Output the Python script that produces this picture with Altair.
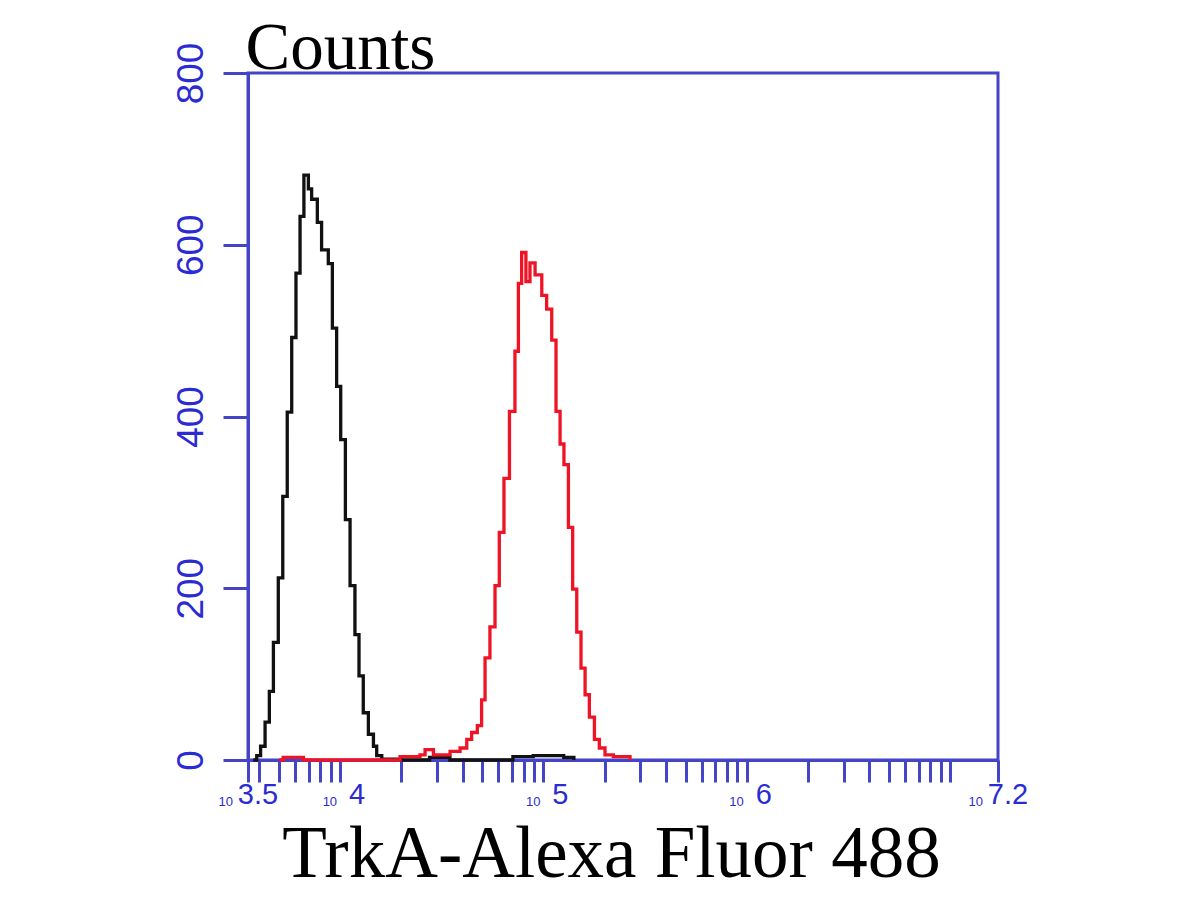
import altair as alt
import pandas as pd

# ---- data (log10 of intensity, counts) ----
black_exp = [3.573, 3.590, 3.609, 3.631, 3.652, 3.672, 3.696, 3.718, 3.740, 3.762,
             3.783, 3.803, 3.822, 3.844, 3.860, 3.888, 3.909, 3.942, 3.962, 3.983,
             4.003, 4.026, 4.049, 4.073, 4.093, 4.114, 4.139, 4.164, 4.180, 4.205,
             4.30, 4.44, 4.54, 4.85, 4.95, 5.10, 5.15]
black_cnt = [0, 5, 16, 44, 80, 137, 212, 307, 405, 492,
             567, 633, 681, 665, 653, 626, 594, 578, 503, 435,
             373, 280, 203, 146, 98, 55, 30, 16, 5, 1,
             0, 3, 0, 4, 5, 3, 0]

red_exp = [3.70, 3.72, 3.82, 4.295, 4.393, 4.418, 4.459, 4.541, 4.590, 4.623,
           4.647, 4.675, 4.696, 4.713, 4.737, 4.762, 4.783, 4.806, 4.833, 4.860,
           4.877, 4.893, 4.914, 4.934, 4.959, 4.992, 5.016, 5.041, 5.062, 5.082,
           5.101, 5.123, 5.144, 5.164, 5.185, 5.205, 5.226, 5.251, 5.275, 5.303,
           5.344, 5.426]
red_cnt = [0, 3, 0, 4, 6, 12, 6, 10, 14, 24,
           32, 40, 70, 119, 155, 203, 265, 328, 406, 476,
           555, 591, 557, 579, 565, 541, 525, 489, 406, 368,
           344, 271, 199, 149, 107, 76, 50, 24, 14, 6,
           4, 0]

y_ticks = [0, 200, 400, 600, 800]
x_domain_exp = [3.547, 7.236]
decade_exp = [4, 5, 6]
decade_labels = ["4", "5", "6"]
end_labels = ["3.5", "7.2"]

W, H = 750, 687
AXIS_BLUE = "#4444c6"
LABEL_BLUE = "#2b2bd2"

xmin, xmax = 10 ** x_domain_exp[0], 10 ** x_domain_exp[1]
minor = [m * 10 ** k for k in range(3, 8) for m in range(1, 10)
         if xmin <= m * 10 ** k <= xmax]
tick_vals = [xmin] + minor + [xmax]

black_df = pd.DataFrame({"intensity": [10 ** e for e in black_exp], "count": black_cnt})
red_df = pd.DataFrame({"intensity": [10 ** e for e in red_exp], "count": red_cnt})
int_df = pd.DataFrame({"intensity": [10 ** e for e in decade_exp], "lab": decade_labels})
end_df = pd.DataFrame({"intensity": [xmin, xmax], "lab": end_labels})

x_enc = alt.X(
    "intensity:Q",
    scale=alt.Scale(type="log", domain=[xmin, xmax], nice=False),
    axis=alt.Axis(
        values=tick_vals, labels=False, grid=False,
        tickSize=22, tickWidth=3, tickColor=AXIS_BLUE,
        domainWidth=3, domainColor=AXIS_BLUE,
        title="TrkA-Alexa Fluor 488", titleFont="Liberation Serif",
        titleFontSize=73, titleFontWeight="normal", titleColor="#000000",
        titleAlign="center", titleBaseline="alphabetic",
        titleX=363, titleY=116,
    ),
)
y_enc = alt.Y(
    "count:Q",
    scale=alt.Scale(domain=[0, 800], nice=False),
    axis=alt.Axis(
        values=y_ticks, grid=False,
        tickSize=25, tickWidth=3, tickColor=AXIS_BLUE,
        domainWidth=3, domainColor=AXIS_BLUE,
        labelAngle=270, labelAlign="center", labelBaseline="alphabetic",
        labelPadding=21, labelFont="Liberation Sans", labelFontSize=37,
        labelColor=LABEL_BLUE, labelFlush=False, labelOverlap=False,
        title="Counts", titleAngle=0, titleAlign="left",
        titleBaseline="alphabetic", titleX=-3, titleY=-5,
        titleFont="Liberation Serif", titleFontSize=67,
        titleFontWeight="normal", titleColor="#000000",
    ),
)

black = alt.Chart(black_df).mark_line(
    interpolate="step-after", color="#111111", strokeWidth=3.3
).encode(x=x_enc, y=y_enc)

red = alt.Chart(red_df).mark_line(
    interpolate="step-after", color="#ee1426", strokeWidth=3.3
).encode(x="intensity:Q", y="count:Q")

exp_int = alt.Chart(int_df).mark_text(
    font="Liberation Sans", fontSize=29, color=LABEL_BLUE,
    align="center", baseline="alphabetic", dx=17
).encode(x="intensity:Q", y=alt.value(H + 44), text="lab:N")

ten_int = alt.Chart(int_df).mark_text(
    font="Liberation Sans", fontSize=13, color=LABEL_BLUE,
    align="right", baseline="alphabetic", dx=-3, dy=2, text="10"
).encode(x="intensity:Q", y=alt.value(H + 44))

exp_end = alt.Chart(end_df).mark_text(
    font="Liberation Sans", fontSize=29, color=LABEL_BLUE,
    align="center", baseline="alphabetic", dx=10
).encode(x="intensity:Q", y=alt.value(H + 44), text="lab:N")

ten_end = alt.Chart(end_df).mark_text(
    font="Liberation Sans", fontSize=13, color=LABEL_BLUE,
    align="right", baseline="alphabetic", dx=-15, dy=2, text="10"
).encode(x="intensity:Q", y=alt.value(H + 44))

chart = alt.layer(black, red, exp_int, ten_int, exp_end, ten_end).properties(
    width=W, height=H,
    autosize=alt.AutoSizeParams(type="none"),
    padding={"left": 240, "top": 65, "right": 60, "bottom": 132},
    background="#ffffff",
).configure_view(
    stroke=AXIS_BLUE, strokeWidth=3
)

chart.save("out.html", embed_options={"renderer": "svg", "actions": False})
